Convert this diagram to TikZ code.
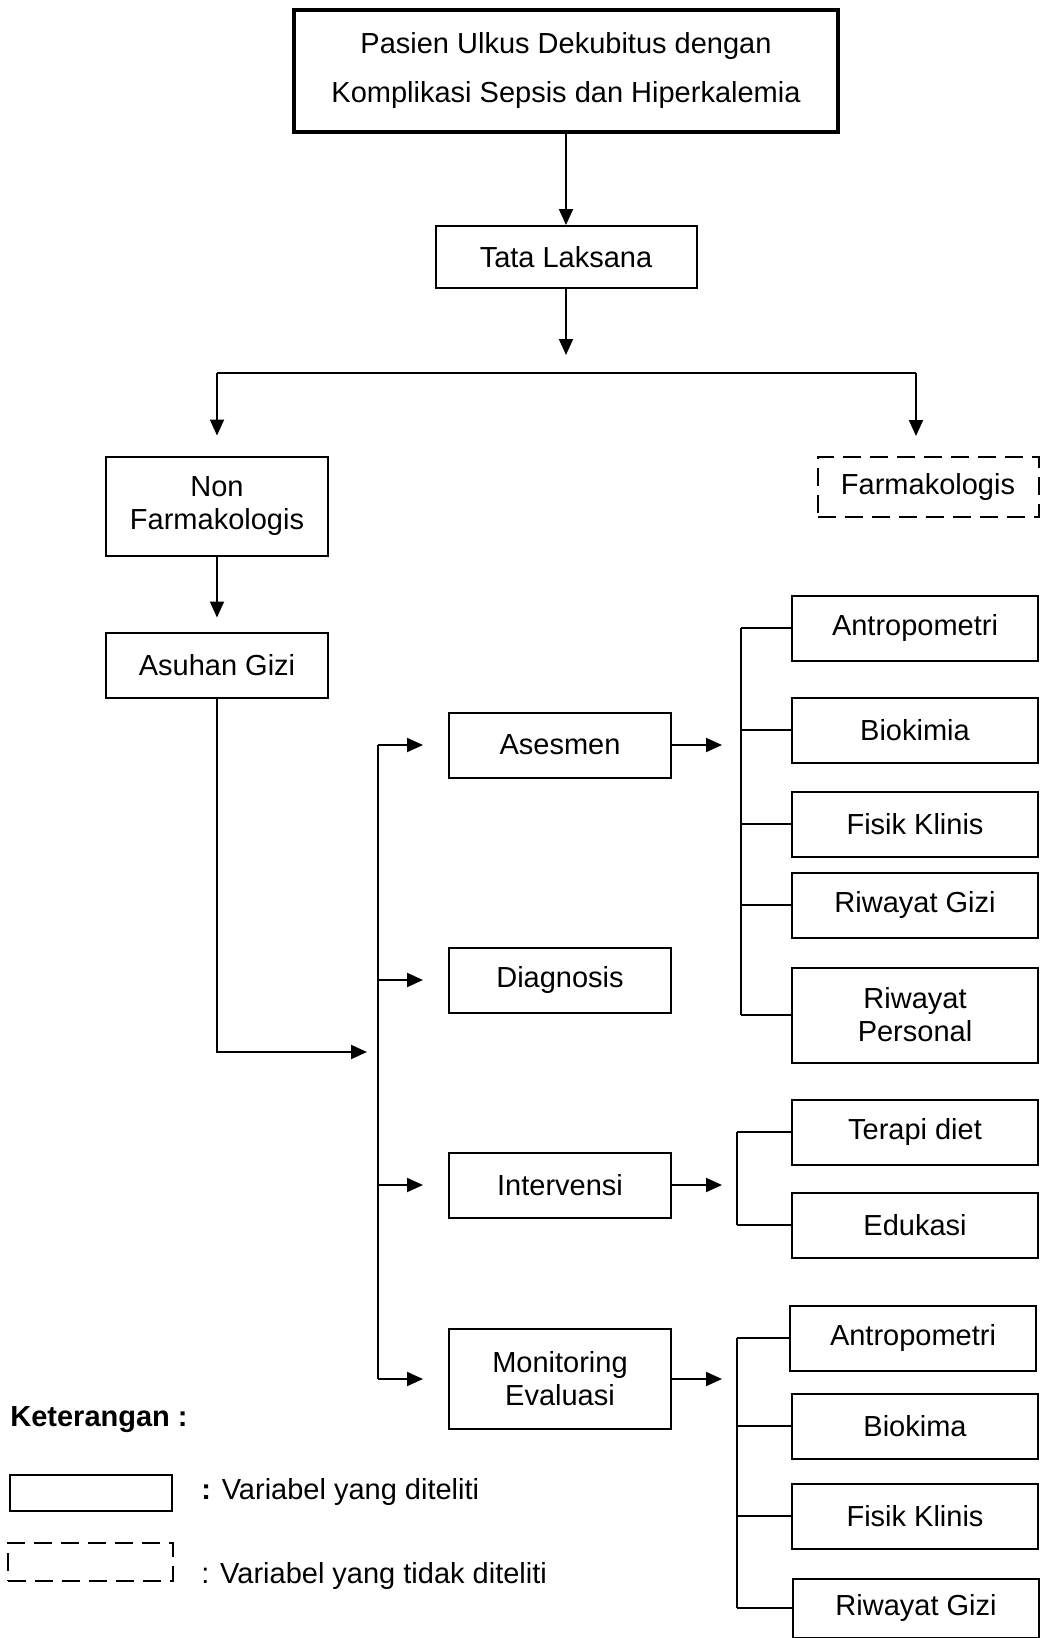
\documentclass[tikz,border=0pt]{standalone}
\usepackage{fontspec}
\setmainfont{Liberation Sans}
\usepackage{tikz}
\usetikzlibrary{arrows.meta}
\tikzset{
  box/.style={draw, line width=1pt, align=center, inner sep=0pt, minimum height=32.5pt,
    font=\fontsize{14.5}{16.5}\selectfont},
  item/.style={box, minimum width=123pt},
  notdone/.style={dash pattern=on 9pt off 4.5pt},
  link/.style={line width=1pt},
  arr/.style={line width=1pt, -{Triangle[length=8pt,width=7pt]}},
  legtext/.style={anchor=west, inner sep=0pt, font=\fontsize{14.5}{16.5}\selectfont},
}

\begin{document}
\begin{tikzpicture}[x=0.5pt,y=-0.5pt]
      \useasboundingbox (0,0) rectangle (1040,1638);
      \node[box, line width=1.8pt, minimum width=272pt, minimum height=61pt,
        font=\fontsize{14.5}{24.5}\selectfont] (pasien) at (566,71)
        {Pasien Ulkus Dekubitus dengan\\Komplikasi Sepsis dan Hiperkalemia};
      \node[box, minimum width=130.5pt, minimum height=31pt] (tata) at (566,257) {Tata Laksana};
      \node[box, minimum width=111pt, minimum height=49.5pt] (nonfarm) at (217,506) {Non\\Farmakologis};
      \node[box, notdone, minimum width=110.5pt, minimum height=30pt] (farm) at (928,487) {Farmakologis};
      \node[box, minimum width=111pt] (asuhan) at (217,665) {Asuhan Gizi};
      \node[box, minimum width=111pt] (asesmen) at (560,745) {Asesmen};
      \node[box, minimum width=111pt] (diagnosis) at (560,980) {Diagnosis};
      \node[box, minimum width=111pt] (intervensi) at (560,1185) {Intervensi};
      \node[box, minimum width=111pt, minimum height=50pt] (monev) at (560,1379) {Monitoring\\Evaluasi};
      \node[item] (antroA) at (915,628) {Antropometri};
      \node[item] (biokimia) at (915,730) {Biokimia};
      \node[item] (fisikA) at (915,824) {Fisik Klinis};
      \node[item] (giziA) at (915,905) {Riwayat Gizi};
      \node[item, minimum height=47.5pt] (personal) at (915,1015) {Riwayat\\Personal};
      \node[item] (terapi) at (915,1132) {Terapi diet};
      \node[item] (edukasi) at (915,1225) {Edukasi};
      \node[item] (antroB) at (913,1338) {Antropometri};
      \node[item] (biokima) at (915,1426) {Biokima};
      \node[item] (fisikB) at (915,1516) {Fisik Klinis};
      \node[item, minimum height=29.5pt] (giziB) at (916,1608) {Riwayat Gizi};
      \draw[arr] (pasien) -- (tata);
      \draw[arr] (tata.south) -- ++(0,66);
      \coordinate (splitL) at (217,373);
      \coordinate (splitR) at (916,373);
      \draw[link] (splitL) -- (splitR);
      \draw[arr, shorten >=10pt] (splitL) -- (splitL |- nonfarm.north);
      \draw[arr, shorten >=10pt] (splitR) -- (splitR |- farm.north);
      \draw[arr, shorten >=7pt] (nonfarm) -- (asuhan);
      \coordinate (hub) at (378,1052);
      \draw[arr, shorten >=5.5pt] (asuhan.south) |- (hub);
      \draw[link] (asesmen.west -| hub) -- (monev.west -| hub);
      \foreach \n in {asesmen,diagnosis,intervensi,monev}
        \draw[arr, shorten >=12.5pt] (\n.west -| hub) -- (\n.west);
      \coordinate (brA) at (741,0);
      \coordinate (brB) at (737,0);
      \draw[arr, shorten >=9.5pt] (asesmen.east) -- (asesmen.east -| brA);
      \draw[arr, shorten >=7.5pt] (intervensi.east) -- (intervensi.east -| brB);
      \draw[arr, shorten >=7.5pt] (monev.east) -- (monev.east -| brB);
      \draw[link] (antroA.west -| brA) -- (personal.west -| brA);
      \foreach \n in {antroA,biokimia,fisikA,giziA,personal}
        \draw[link] (\n.west -| brA) -- (\n.west);
      \draw[link] (terapi.west -| brB) -- (edukasi.west -| brB);
      \foreach \n in {terapi,edukasi}
        \draw[link] (\n.west -| brB) -- (\n.west);
      \draw[link] (antroB.west -| brB) -- (giziB.west -| brB);
      \foreach \n in {antroB,biokima,fisikB,giziB}
        \draw[link] (\n.west -| brB) -- (\n.west);
      \node[legtext, font=\bfseries\fontsize{14.5}{16.5}\selectfont] (ket) at (10,1420) {Keterangan :};
      \node[box, minimum width=81pt, minimum height=18pt] (legA) at (91,1493) {};
      \node[box, notdone, minimum width=82.5pt, minimum height=19pt] (legB) at (90,1562) {};
      \node[legtext] (legAtext) at (201,1492) {\textbf{:} Variabel yang diteliti};
      \node[legtext] (legBtext) at (201,1576) {: Variabel yang tidak diteliti};
    \end{tikzpicture}
\end{document}
